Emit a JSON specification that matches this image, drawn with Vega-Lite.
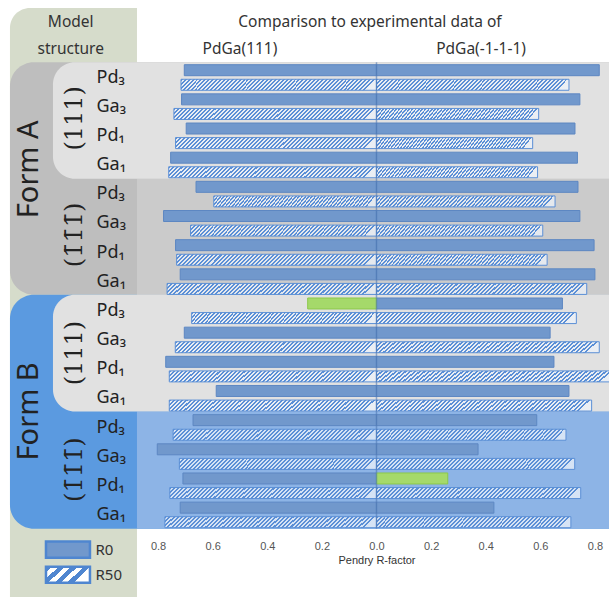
{
"$schema": "https://vega.github.io/schema/vega-lite/v6.json",
"width": 609, "height": 597, "padding": 0, "autosize": {"type": "none"},
"background": "white",
"config": {"view": {"stroke": null}, "font": "Noto Sans",
"axisX": {"domain": false, "ticks": false, "grid": false, "offset": -60, "labelPadding": 3, "titlePadding": 3, "labelFont": "Liberation Sans", "labelFontSize": 11, "labelColor": "#555555", "titleFont": "Liberation Sans", "titleFontSize": 11, "titleFontWeight": "normal", "titleColor": "#333333"}},
"datasets": {
"bars": [
{"row":0,"form":"Form A","face":"(111)","elem":"Pd₃","series":"R0","pdga111":0.704,"pdgam111":0.816,"best":""},
{"row":1,"form":"Form A","face":"(111)","elem":"Pd₃","series":"R50","pdga111":0.716,"pdgam111":0.705,"best":""},
{"row":2,"form":"Form A","face":"(111)","elem":"Ga₃","series":"R0","pdga111":0.714,"pdgam111":0.745,"best":""},
{"row":3,"form":"Form A","face":"(111)","elem":"Ga₃","series":"R50","pdga111":0.742,"pdgam111":0.594,"best":""},
{"row":4,"form":"Form A","face":"(111)","elem":"Pd₁","series":"R0","pdga111":0.697,"pdgam111":0.727,"best":""},
{"row":5,"form":"Form A","face":"(111)","elem":"Pd₁","series":"R50","pdga111":0.736,"pdgam111":0.572,"best":""},
{"row":6,"form":"Form A","face":"(111)","elem":"Ga₁","series":"R0","pdga111":0.754,"pdgam111":0.736,"best":""},
{"row":7,"form":"Form A","face":"(111)","elem":"Ga₁","series":"R50","pdga111":0.761,"pdgam111":0.590,"best":""},
{"row":8,"form":"Form A","face":"(-1-1-1)","elem":"Pd₃","series":"R0","pdga111":0.661,"pdgam111":0.738,"best":""},
{"row":9,"form":"Form A","face":"(-1-1-1)","elem":"Pd₃","series":"R50","pdga111":0.596,"pdgam111":0.654,"best":""},
{"row":10,"form":"Form A","face":"(-1-1-1)","elem":"Ga₃","series":"R0","pdga111":0.780,"pdgam111":0.745,"best":""},
{"row":11,"form":"Form A","face":"(-1-1-1)","elem":"Ga₃","series":"R50","pdga111":0.681,"pdgam111":0.609,"best":""},
{"row":12,"form":"Form A","face":"(-1-1-1)","elem":"Pd₁","series":"R0","pdga111":0.736,"pdgam111":0.797,"best":""},
{"row":13,"form":"Form A","face":"(-1-1-1)","elem":"Pd₁","series":"R50","pdga111":0.732,"pdgam111":0.625,"best":""},
{"row":14,"form":"Form A","face":"(-1-1-1)","elem":"Ga₁","series":"R0","pdga111":0.719,"pdgam111":0.800,"best":""},
{"row":15,"form":"Form A","face":"(-1-1-1)","elem":"Ga₁","series":"R50","pdga111":0.767,"pdgam111":0.770,"best":""},
{"row":16,"form":"Form B","face":"(111)","elem":"Pd₃","series":"R0","pdga111":0.252,"pdgam111":0.681,"best":"pdga111"},
{"row":17,"form":"Form B","face":"(111)","elem":"Pd₃","series":"R50","pdga111":0.677,"pdgam111":0.732,"best":""},
{"row":18,"form":"Form B","face":"(111)","elem":"Ga₃","series":"R0","pdga111":0.704,"pdgam111":0.636,"best":""},
{"row":19,"form":"Form B","face":"(111)","elem":"Ga₃","series":"R50","pdga111":0.737,"pdgam111":0.816,"best":""},
{"row":20,"form":"Form B","face":"(111)","elem":"Pd₁","series":"R0","pdga111":0.772,"pdgam111":0.650,"best":""},
{"row":21,"form":"Form B","face":"(111)","elem":"Pd₁","series":"R50","pdga111":0.759,"pdgam111":0.870,"best":""},
{"row":22,"form":"Form B","face":"(111)","elem":"Ga₁","series":"R0","pdga111":0.587,"pdgam111":0.705,"best":""},
{"row":23,"form":"Form B","face":"(111)","elem":"Ga₁","series":"R50","pdga111":0.759,"pdgam111":0.788,"best":""},
{"row":24,"form":"Form B","face":"(-1-1-1)","elem":"Pd₃","series":"R0","pdga111":0.672,"pdgam111":0.587,"best":""},
{"row":25,"form":"Form B","face":"(-1-1-1)","elem":"Pd₃","series":"R50","pdga111":0.745,"pdgam111":0.694,"best":""},
{"row":26,"form":"Form B","face":"(-1-1-1)","elem":"Ga₃","series":"R0","pdga111":0.803,"pdgam111":0.372,"best":""},
{"row":27,"form":"Form B","face":"(-1-1-1)","elem":"Ga₃","series":"R50","pdga111":0.722,"pdgam111":0.726,"best":""},
{"row":28,"form":"Form B","face":"(-1-1-1)","elem":"Pd₁","series":"R0","pdga111":0.709,"pdgam111":0.261,"best":"pdgam111"},
{"row":29,"form":"Form B","face":"(-1-1-1)","elem":"Pd₁","series":"R50","pdga111":0.757,"pdgam111":0.748,"best":""},
{"row":30,"form":"Form B","face":"(-1-1-1)","elem":"Ga₁","series":"R0","pdga111":0.719,"pdgam111":0.430,"best":""},
{"row":31,"form":"Form B","face":"(-1-1-1)","elem":"Ga₁","series":"R50","pdga111":0.775,"pdgam111":0.712,"best":""}
]
},
"layer": [
{
"data": {"values": [{}]},
"mark": {"type": "rect", "fill": "#d6dccb", "cornerRadiusTopLeft": 20},
"encoding": {
"x": {"datum": -1.3425, "type": "quantitative", "scale": {"domain": [-1.379, 0.8516], "nice": false, "zero": false}},
"x2": {"datum": -0.8773},
"y": {"datum": -4.27, "type": "quantitative", "scale": {"domain": [-4.471, 35.786], "nice": false, "zero": false, "reverse": true}, "axis": null},
"y2": {"datum": 37}
}
},
{
"data": {"values": [{"form": "Form A", "top": -0.55, "bottom": 15.4}, {"form": "Form B", "top": 15.4, "bottom": 31.45}]},
"mark": {"type": "rect", "cornerRadius": 24},
"encoding": {
"x": {"datum": -1.3425, "type": "quantitative"},
"x2": {"datum": 1.0},
"y": {"field": "top", "type": "quantitative", "axis": null},
"y2": {"field": "bottom"},
"fill": {"condition": {"test": "datum.form == 'Form A'", "value": "#bebebe"}, "value": "#5b9ae0"}
}
},
{
"data": {"values": [{"form": "Form A", "top": 7.45, "bottom": 15.4}, {"form": "Form B", "top": 23.4, "bottom": 31.45}]},
"mark": {"type": "rect"},
"encoding": {
"x": {"datum": -0.8773, "type": "quantitative"},
"x2": {"datum": 0.8516},
"y": {"field": "top", "type": "quantitative", "axis": null},
"y2": {"field": "bottom"},
"fill": {"condition": {"test": "datum.form == 'Form A'", "value": "#cbcbcb"}, "value": "#8db4e6"}
}
},
{
"data": {"values": [{"form": "Form A", "top": -0.55, "bottom": 7.45}, {"form": "Form B", "top": 15.4, "bottom": 23.4}]},
"mark": {"type": "rect", "cornerRadius": 22, "fill": "#e1e1e1"},
"encoding": {
"x": {"datum": -1.185, "type": "quantitative"},
"x2": {"datum": 1.0},
"y": {"field": "top", "type": "quantitative", "axis": null},
"y2": {"field": "bottom"}
}
},
{
"data": {"name": "bars"},
"transform": [
{"fold": ["pdga111", "pdgam111"], "as": ["side", "r"]},
{"calculate": "datum.side == 'pdga111' ? -datum.r : datum.r", "as": "pos"},
{"filter": "datum.series == 'R0' && datum.best != datum.side"}
],
"mark": {"type": "bar", "orient": "horizontal", "height": 11, "fill": "#7198cc", "stroke": "#5d87c2", "strokeWidth": 1},
"encoding": {
"x": {"field": "pos", "type": "quantitative", "title": "Pendry R-factor",
"axis": {"values": [-0.8, -0.6, -0.4, -0.2, 0, 0.2, 0.4, 0.6, 0.8], "labelExpr": "format(abs(datum.value), '.1f')", "titleX": 376.5, "titleAlign": "center"}},
"x2": {"datum": 0},
"y": {"field": "row", "type": "quantitative", "axis": null}
}
},
{
"data": {"name": "bars"},
"transform": [
{"fold": ["pdga111", "pdgam111"], "as": ["side", "r"]},
{"calculate": "datum.side == 'pdga111' ? -datum.r : datum.r", "as": "pos"},
{"filter": "datum.series == 'R50'"}
],
"mark": {"type": "bar", "orient": "horizontal", "height": 11, "stroke": "#5b8fd6", "strokeWidth": 1,
"fill": {"gradient": "linear", "x1": 0, "y1": 0, "x2": 1, "y2": 0.055, "stops": [
{"offset":0,"color":"#5b8fd6"},{"offset":0.01,"color":"#5b8fd6"},{"offset":0.01,"color":"rgba(238,243,250,0.75)"},{"offset":0.02,"color":"rgba(238,243,250,0.75)"},
{"offset":0.02,"color":"#5b8fd6"},{"offset":0.03,"color":"#5b8fd6"},{"offset":0.03,"color":"rgba(238,243,250,0.75)"},{"offset":0.04,"color":"rgba(238,243,250,0.75)"},
{"offset":0.04,"color":"#5b8fd6"},{"offset":0.05,"color":"#5b8fd6"},{"offset":0.05,"color":"rgba(238,243,250,0.75)"},{"offset":0.06,"color":"rgba(238,243,250,0.75)"},
{"offset":0.06,"color":"#5b8fd6"},{"offset":0.07,"color":"#5b8fd6"},{"offset":0.07,"color":"rgba(238,243,250,0.75)"},{"offset":0.08,"color":"rgba(238,243,250,0.75)"},
{"offset":0.08,"color":"#5b8fd6"},{"offset":0.09,"color":"#5b8fd6"},{"offset":0.09,"color":"rgba(238,243,250,0.75)"},{"offset":0.10,"color":"rgba(238,243,250,0.75)"},
{"offset":0.10,"color":"#5b8fd6"},{"offset":0.11,"color":"#5b8fd6"},{"offset":0.11,"color":"rgba(238,243,250,0.75)"},{"offset":0.12,"color":"rgba(238,243,250,0.75)"},
{"offset":0.12,"color":"#5b8fd6"},{"offset":0.13,"color":"#5b8fd6"},{"offset":0.13,"color":"rgba(238,243,250,0.75)"},{"offset":0.14,"color":"rgba(238,243,250,0.75)"},
{"offset":0.14,"color":"#5b8fd6"},{"offset":0.15,"color":"#5b8fd6"},{"offset":0.15,"color":"rgba(238,243,250,0.75)"},{"offset":0.16,"color":"rgba(238,243,250,0.75)"},
{"offset":0.16,"color":"#5b8fd6"},{"offset":0.17,"color":"#5b8fd6"},{"offset":0.17,"color":"rgba(238,243,250,0.75)"},{"offset":0.18,"color":"rgba(238,243,250,0.75)"},
{"offset":0.18,"color":"#5b8fd6"},{"offset":0.19,"color":"#5b8fd6"},{"offset":0.19,"color":"rgba(238,243,250,0.75)"},{"offset":0.20,"color":"rgba(238,243,250,0.75)"},
{"offset":0.20,"color":"#5b8fd6"},{"offset":0.21,"color":"#5b8fd6"},{"offset":0.21,"color":"rgba(238,243,250,0.75)"},{"offset":0.22,"color":"rgba(238,243,250,0.75)"},
{"offset":0.22,"color":"#5b8fd6"},{"offset":0.23,"color":"#5b8fd6"},{"offset":0.23,"color":"rgba(238,243,250,0.75)"},{"offset":0.24,"color":"rgba(238,243,250,0.75)"},
{"offset":0.24,"color":"#5b8fd6"},{"offset":0.25,"color":"#5b8fd6"},{"offset":0.25,"color":"rgba(238,243,250,0.75)"},{"offset":0.26,"color":"rgba(238,243,250,0.75)"},
{"offset":0.26,"color":"#5b8fd6"},{"offset":0.27,"color":"#5b8fd6"},{"offset":0.27,"color":"rgba(238,243,250,0.75)"},{"offset":0.28,"color":"rgba(238,243,250,0.75)"},
{"offset":0.28,"color":"#5b8fd6"},{"offset":0.29,"color":"#5b8fd6"},{"offset":0.29,"color":"rgba(238,243,250,0.75)"},{"offset":0.30,"color":"rgba(238,243,250,0.75)"},
{"offset":0.30,"color":"#5b8fd6"},{"offset":0.31,"color":"#5b8fd6"},{"offset":0.31,"color":"rgba(238,243,250,0.75)"},{"offset":0.32,"color":"rgba(238,243,250,0.75)"},
{"offset":0.32,"color":"#5b8fd6"},{"offset":0.33,"color":"#5b8fd6"},{"offset":0.33,"color":"rgba(238,243,250,0.75)"},{"offset":0.34,"color":"rgba(238,243,250,0.75)"},
{"offset":0.34,"color":"#5b8fd6"},{"offset":0.35,"color":"#5b8fd6"},{"offset":0.35,"color":"rgba(238,243,250,0.75)"},{"offset":0.36,"color":"rgba(238,243,250,0.75)"},
{"offset":0.36,"color":"#5b8fd6"},{"offset":0.37,"color":"#5b8fd6"},{"offset":0.37,"color":"rgba(238,243,250,0.75)"},{"offset":0.38,"color":"rgba(238,243,250,0.75)"},
{"offset":0.38,"color":"#5b8fd6"},{"offset":0.39,"color":"#5b8fd6"},{"offset":0.39,"color":"rgba(238,243,250,0.75)"},{"offset":0.40,"color":"rgba(238,243,250,0.75)"},
{"offset":0.40,"color":"#5b8fd6"},{"offset":0.41,"color":"#5b8fd6"},{"offset":0.41,"color":"rgba(238,243,250,0.75)"},{"offset":0.42,"color":"rgba(238,243,250,0.75)"},
{"offset":0.42,"color":"#5b8fd6"},{"offset":0.43,"color":"#5b8fd6"},{"offset":0.43,"color":"rgba(238,243,250,0.75)"},{"offset":0.44,"color":"rgba(238,243,250,0.75)"},
{"offset":0.44,"color":"#5b8fd6"},{"offset":0.45,"color":"#5b8fd6"},{"offset":0.45,"color":"rgba(238,243,250,0.75)"},{"offset":0.46,"color":"rgba(238,243,250,0.75)"},
{"offset":0.46,"color":"#5b8fd6"},{"offset":0.47,"color":"#5b8fd6"},{"offset":0.47,"color":"rgba(238,243,250,0.75)"},{"offset":0.48,"color":"rgba(238,243,250,0.75)"},
{"offset":0.48,"color":"#5b8fd6"},{"offset":0.49,"color":"#5b8fd6"},{"offset":0.49,"color":"rgba(238,243,250,0.75)"},{"offset":0.50,"color":"rgba(238,243,250,0.75)"},
{"offset":0.50,"color":"#5b8fd6"},{"offset":0.51,"color":"#5b8fd6"},{"offset":0.51,"color":"rgba(238,243,250,0.75)"},{"offset":0.52,"color":"rgba(238,243,250,0.75)"},
{"offset":0.52,"color":"#5b8fd6"},{"offset":0.53,"color":"#5b8fd6"},{"offset":0.53,"color":"rgba(238,243,250,0.75)"},{"offset":0.54,"color":"rgba(238,243,250,0.75)"},
{"offset":0.54,"color":"#5b8fd6"},{"offset":0.55,"color":"#5b8fd6"},{"offset":0.55,"color":"rgba(238,243,250,0.75)"},{"offset":0.56,"color":"rgba(238,243,250,0.75)"},
{"offset":0.56,"color":"#5b8fd6"},{"offset":0.57,"color":"#5b8fd6"},{"offset":0.57,"color":"rgba(238,243,250,0.75)"},{"offset":0.58,"color":"rgba(238,243,250,0.75)"},
{"offset":0.58,"color":"#5b8fd6"},{"offset":0.59,"color":"#5b8fd6"},{"offset":0.59,"color":"rgba(238,243,250,0.75)"},{"offset":0.60,"color":"rgba(238,243,250,0.75)"},
{"offset":0.60,"color":"#5b8fd6"},{"offset":0.61,"color":"#5b8fd6"},{"offset":0.61,"color":"rgba(238,243,250,0.75)"},{"offset":0.62,"color":"rgba(238,243,250,0.75)"},
{"offset":0.62,"color":"#5b8fd6"},{"offset":0.63,"color":"#5b8fd6"},{"offset":0.63,"color":"rgba(238,243,250,0.75)"},{"offset":0.64,"color":"rgba(238,243,250,0.75)"},
{"offset":0.64,"color":"#5b8fd6"},{"offset":0.65,"color":"#5b8fd6"},{"offset":0.65,"color":"rgba(238,243,250,0.75)"},{"offset":0.66,"color":"rgba(238,243,250,0.75)"},
{"offset":0.66,"color":"#5b8fd6"},{"offset":0.67,"color":"#5b8fd6"},{"offset":0.67,"color":"rgba(238,243,250,0.75)"},{"offset":0.68,"color":"rgba(238,243,250,0.75)"},
{"offset":0.68,"color":"#5b8fd6"},{"offset":0.69,"color":"#5b8fd6"},{"offset":0.69,"color":"rgba(238,243,250,0.75)"},{"offset":0.70,"color":"rgba(238,243,250,0.75)"},
{"offset":0.70,"color":"#5b8fd6"},{"offset":0.71,"color":"#5b8fd6"},{"offset":0.71,"color":"rgba(238,243,250,0.75)"},{"offset":0.72,"color":"rgba(238,243,250,0.75)"},
{"offset":0.72,"color":"#5b8fd6"},{"offset":0.73,"color":"#5b8fd6"},{"offset":0.73,"color":"rgba(238,243,250,0.75)"},{"offset":0.74,"color":"rgba(238,243,250,0.75)"},
{"offset":0.74,"color":"#5b8fd6"},{"offset":0.75,"color":"#5b8fd6"},{"offset":0.75,"color":"rgba(238,243,250,0.75)"},{"offset":0.76,"color":"rgba(238,243,250,0.75)"},
{"offset":0.76,"color":"#5b8fd6"},{"offset":0.77,"color":"#5b8fd6"},{"offset":0.77,"color":"rgba(238,243,250,0.75)"},{"offset":0.78,"color":"rgba(238,243,250,0.75)"},
{"offset":0.78,"color":"#5b8fd6"},{"offset":0.79,"color":"#5b8fd6"},{"offset":0.79,"color":"rgba(238,243,250,0.75)"},{"offset":0.80,"color":"rgba(238,243,250,0.75)"},
{"offset":0.80,"color":"#5b8fd6"},{"offset":0.81,"color":"#5b8fd6"},{"offset":0.81,"color":"rgba(238,243,250,0.75)"},{"offset":0.82,"color":"rgba(238,243,250,0.75)"},
{"offset":0.82,"color":"#5b8fd6"},{"offset":0.83,"color":"#5b8fd6"},{"offset":0.83,"color":"rgba(238,243,250,0.75)"},{"offset":0.84,"color":"rgba(238,243,250,0.75)"},
{"offset":0.84,"color":"#5b8fd6"},{"offset":0.85,"color":"#5b8fd6"},{"offset":0.85,"color":"rgba(238,243,250,0.75)"},{"offset":0.86,"color":"rgba(238,243,250,0.75)"},
{"offset":0.86,"color":"#5b8fd6"},{"offset":0.87,"color":"#5b8fd6"},{"offset":0.87,"color":"rgba(238,243,250,0.75)"},{"offset":0.88,"color":"rgba(238,243,250,0.75)"},
{"offset":0.88,"color":"#5b8fd6"},{"offset":0.89,"color":"#5b8fd6"},{"offset":0.89,"color":"rgba(238,243,250,0.75)"},{"offset":0.90,"color":"rgba(238,243,250,0.75)"},
{"offset":0.90,"color":"#5b8fd6"},{"offset":0.91,"color":"#5b8fd6"},{"offset":0.91,"color":"rgba(238,243,250,0.75)"},{"offset":0.92,"color":"rgba(238,243,250,0.75)"},
{"offset":0.92,"color":"#5b8fd6"},{"offset":0.93,"color":"#5b8fd6"},{"offset":0.93,"color":"rgba(238,243,250,0.75)"},{"offset":0.94,"color":"rgba(238,243,250,0.75)"},
{"offset":0.94,"color":"#5b8fd6"},{"offset":0.95,"color":"#5b8fd6"},{"offset":0.95,"color":"rgba(238,243,250,0.75)"},{"offset":0.96,"color":"rgba(238,243,250,0.75)"},
{"offset":0.96,"color":"#5b8fd6"},{"offset":0.97,"color":"#5b8fd6"},{"offset":0.97,"color":"rgba(238,243,250,0.75)"},{"offset":0.98,"color":"rgba(238,243,250,0.75)"},
{"offset":0.98,"color":"#5b8fd6"},{"offset":0.99,"color":"#5b8fd6"},{"offset":0.99,"color":"rgba(238,243,250,0.75)"},{"offset":1,"color":"rgba(238,243,250,0.75)"}
]}},
"encoding": {
"x": {"field": "pos", "type": "quantitative", "title": "Pendry R-factor"},
"x2": {"datum": 0},
"y": {"field": "row", "type": "quantitative", "axis": null}
}
},
{
"data": {"name": "bars"},
"transform": [
{"fold": ["pdga111", "pdgam111"], "as": ["side", "r"]},
{"calculate": "datum.side == 'pdga111' ? -datum.r : datum.r", "as": "pos"},
{"filter": "datum.best == datum.side"}
],
"mark": {"type": "bar", "orient": "horizontal", "height": 11, "fill": "#a5d96a", "stroke": "#8cc84b", "strokeWidth": 1},
"encoding": {
"x": {"field": "pos", "type": "quantitative", "title": "Pendry R-factor"},
"x2": {"datum": 0},
"y": {"field": "row", "type": "quantitative", "axis": null}
}
},
{
"data": {"values": [{}]},
"mark": {"type": "rule", "color": "#4f78b3", "opacity": 0.6, "strokeWidth": 1.5},
"encoding": {
"x": {"datum": 0, "type": "quantitative"},
"y": {"datum": -0.55, "type": "quantitative", "axis": null},
"y2": {"datum": 31.45}
}
},
{
"data": {"name": "bars"},
"transform": [{"filter": "datum.series == 'R0'"}],
"mark": {"type": "text", "align": "left", "baseline": "middle", "dy": 7.4, "fontSize": 18, "color": "#222222", "font": "Noto Sans"},
"encoding": {
"x": {"datum": -1.0256, "type": "quantitative"},
"y": {"field": "row", "type": "quantitative", "axis": null},
"text": {"field": "elem"}
}
},
{
"data": {"values": [{"label": "(111)", "mid": 3.3}, {"label": "(1̄1̄1̄)", "mid": 11.3}, {"label": "(111)", "mid": 19.4}, {"label": "(1̄1̄1̄)", "mid": 27.4}]},
"mark": {"type": "text", "angle": 270, "align": "center", "baseline": "middle", "fontSize": 24, "font": "DejaVu Serif", "color": "#222222"},
"encoding": {
"x": {"datum": -1.1044, "type": "quantitative"},
"y": {"field": "mid", "type": "quantitative", "axis": null},
"text": {"field": "label"}
}
},
{
"data": {"values": [{"label": "Form A", "mid": 6.8}, {"label": "Form B", "mid": 23.4}]},
"mark": {"type": "text", "angle": 270, "align": "center", "baseline": "middle", "fontSize": 29, "font": "Noto Sans", "color": "#222222"},
"encoding": {
"x": {"datum": -1.2711, "type": "quantitative"},
"y": {"field": "mid", "type": "quantitative", "axis": null},
"text": {"field": "label"}
}
},
{
"data": {"values": [{}]},
"mark": {"type": "text", "text": "Model", "align": "center", "baseline": "middle", "fontSize": 15.5, "color": "#333333"},
"encoding": {"x": {"datum": -1.12, "type": "quantitative"}, "y": {"datum": -3.3, "type": "quantitative", "axis": null}}
},
{
"data": {"values": [{}]},
"mark": {"type": "text", "text": "structure", "align": "center", "baseline": "middle", "fontSize": 15.5, "color": "#333333"},
"encoding": {"x": {"datum": -1.12, "type": "quantitative"}, "y": {"datum": -1.45, "type": "quantitative", "axis": null}}
},
{
"data": {"values": [{}]},
"mark": {"type": "text", "text": "Comparison to experimental data of", "align": "center", "baseline": "middle", "fontSize": 15.5, "color": "#333333"},
"encoding": {"x": {"datum": -0.024, "type": "quantitative"}, "y": {"datum": -3.3, "type": "quantitative", "axis": null}}
},
{
"data": {"values": [{}]},
"mark": {"type": "text", "text": "PdGa(111)", "align": "center", "baseline": "middle", "fontSize": 15.5, "color": "#333333"},
"encoding": {"x": {"datum": -0.5, "type": "quantitative"}, "y": {"datum": -1.45, "type": "quantitative", "axis": null}}
},
{
"data": {"values": [{}]},
"mark": {"type": "text", "text": "PdGa(-1-1-1)", "align": "center", "baseline": "middle", "fontSize": 15.5, "color": "#333333"},
"encoding": {"x": {"datum": 0.383, "type": "quantitative"}, "y": {"datum": -1.45, "type": "quantitative", "axis": null}}
},
{
"data": {"values": [{}]},
"mark": {"type": "rect", "fill": "#7198cc", "stroke": "#4f86d0", "strokeWidth": 2.5},
"encoding": {
"x": {"datum": -1.2106, "type": "quantitative"}, "x2": {"datum": -1.0495},
"y": {"datum": 32.33, "type": "quantitative", "axis": null}, "y2": {"datum": 33.43}
}
},
{
"data": {"values": [{}]},
"mark": {"type": "rect", "stroke": "#4f86d0", "strokeWidth": 2.5,
"fill": {"gradient": "linear", "x1": 0, "y1": 0, "x2": 1, "y2": 0.386, "stops": [
{"offset":0,"color":"#4f86d0"},{"offset":0.125,"color":"#4f86d0"},{"offset":0.125,"color":"#ffffff"},{"offset":0.25,"color":"#ffffff"},
{"offset":0.25,"color":"#4f86d0"},{"offset":0.375,"color":"#4f86d0"},{"offset":0.375,"color":"#ffffff"},{"offset":0.5,"color":"#ffffff"},
{"offset":0.5,"color":"#4f86d0"},{"offset":0.625,"color":"#4f86d0"},{"offset":0.625,"color":"#ffffff"},{"offset":0.75,"color":"#ffffff"},
{"offset":0.75,"color":"#4f86d0"},{"offset":0.875,"color":"#4f86d0"},{"offset":0.875,"color":"#ffffff"},{"offset":1,"color":"#ffffff"}
]}},
"encoding": {
"x": {"datum": -1.2106, "type": "quantitative"}, "x2": {"datum": -1.0495},
"y": {"datum": 34.05, "type": "quantitative", "axis": null}, "y2": {"datum": 35.15}
}
},
{
"data": {"values": [{"label": "R0", "at": 32.88}, {"label": "R50", "at": 34.6}]},
"mark": {"type": "text", "align": "left", "baseline": "middle", "fontSize": 15, "color": "#333333"},
"encoding": {
"x": {"datum": -1.0293, "type": "quantitative"},
"y": {"field": "at", "type": "quantitative", "axis": null},
"text": {"field": "label"}
}
}
]
}
